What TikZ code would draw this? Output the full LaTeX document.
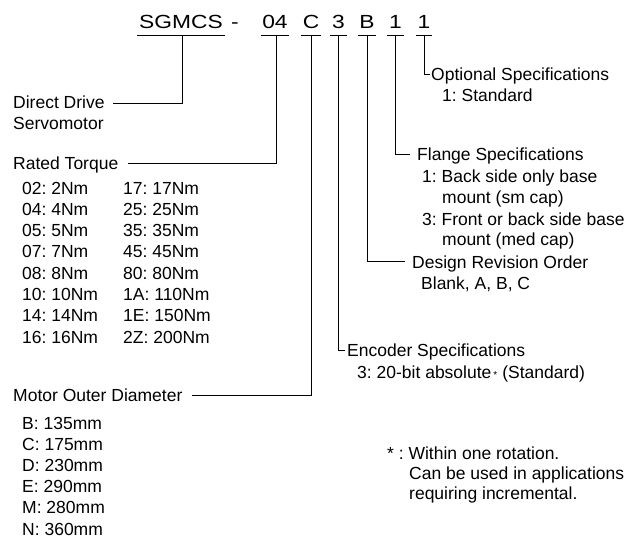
\documentclass[tikz,border=0pt]{standalone}
\usepackage{fontspec}
\setmainfont{Liberation Sans}
\frenchspacing
\begin{document}
\frenchspacing
\begin{tikzpicture}[x=1pt,y=-1pt,
  lbl/.style={anchor=base west, inner sep=0pt, font=\fontsize{17.5}{21}\selectfont},
  code/.style={anchor=base, inner sep=0pt, font=\fontsize{19}{22}\selectfont},
  ln/.style={line width=0.8pt, black},
  uline/.style={line width=0.8pt, black}]
\useasboundingbox (0,0) rectangle (633,538);

% --- code characters ---
\node[code] (c0) at (181,28) {\scalebox{1.2}[1]{SGMCS}};
\node[code] (cd) at (235,28) {\scalebox{1.2}[1]{-}};
\node[code] (c1) at (275,28) {\scalebox{1.2}[1]{04}};
\node[code] (c2) at (311,28) {\scalebox{1.2}[1]{C}};
\node[code] (c3) at (338.5,28) {\scalebox{1.2}[1]{3}};
\node[code] (c4) at (367,28) {\scalebox{1.2}[1]{B}};
\node[code] (c5) at (395.5,28) {\scalebox{1.2}[1]{1}};
\node[code] (c6) at (424,28) {\scalebox{1.2}[1]{1}};

\foreach \c in {c0,c1,c2,c3,c4,c5,c6}
  \draw[uline] ([xshift=-1.5pt,yshift=-7pt]\c.base west) -- ([xshift=1.5pt,yshift=-7pt]\c.base east);

% --- left labels ---
\node[lbl] (dd) at (13,108) {Direct Drive};
\node[lbl] (sv) at (13,129) {Servomotor};
\node[lbl] (rt) at (13,169) {Rated Torque};
\foreach \a/\b [count=\i from 0] in {02: 2Nm/17: 17Nm,04: 4Nm/25: 25Nm,05: 5Nm/35: 35Nm,07: 7Nm/45: 45Nm,08: 8Nm/80: 80Nm,10: 10Nm/1A: 110Nm,14: 14Nm/1E: 150Nm,16: 16Nm/2Z: 200Nm}{
  \node[lbl] (ta\i) at (22,{194+21.3*\i}) {\a};
  \node[lbl] (tb\i) at (123,{194+21.3*\i}) {\b};
}
\node[lbl] (mo) at (13,401) {Motor Outer Diameter};
\foreach \a [count=\i from 0] in {B: 135mm,C: 175mm,D: 230mm,E: 290mm,M: 280mm,N: 360mm}{
  \node[lbl] (md\i) at (22,{429+21.2*\i}) {\a};
}

% --- right labels ---
\node[lbl] (op)  at (431,80)  {Optional Specifications};
\node[lbl] (op1) at (442,101) {1: Standard};
\node[lbl] (fl)  at (417,160) {Flange Specifications};
\node[lbl] (fl1) at (422,182) {1: Back side only base};
\node[lbl] (fl2) at (442,203) {mount (sm cap)};
\node[lbl] (fl3) at (422,225) {3: Front or back side base};
\node[lbl] (fl4) at (442,245) {mount (med cap)};
\node[lbl] (dr)  at (412,268) {Design Revision Order};
\node[lbl] (dr1) at (421,289) {Blank, A, B, C};
\node[lbl] (en)  at (347,356) {Encoder Specifications};
\node[lbl] (en1) at (357,378) {3: 20-bit absolute\hspace{2pt}{\fontsize{10}{10}\selectfont *}\hspace{5pt}(Standard)};
\node[lbl] (fn1) at (387,459) {* : Within one rotation.};
\node[lbl] (fn2) at (409,479) {Can be used in applications};
\node[lbl] (fn3) at (409,499) {requiring incremental.};

% --- connectors ---
\coordinate (k0) at (182,35);   \coordinate (e0) at (113,103);
\coordinate (k1) at (276,35);   \coordinate (e1) at (128,163);
\coordinate (k2) at (311,35);   \coordinate (e2) at (192,395);
\coordinate (k3) at (338,35);   \coordinate (e3) at (345,350);
\coordinate (k4) at (367,35);   \coordinate (e4) at (405,261);
\coordinate (k5) at (395,35);   \coordinate (e5) at (410,154);
\coordinate (k6) at (424,35);   \coordinate (e6) at (430,74);
\foreach \i in {0,...,6}
  \draw[ln] (k\i) |- (e\i);
\end{tikzpicture}
\end{document}
